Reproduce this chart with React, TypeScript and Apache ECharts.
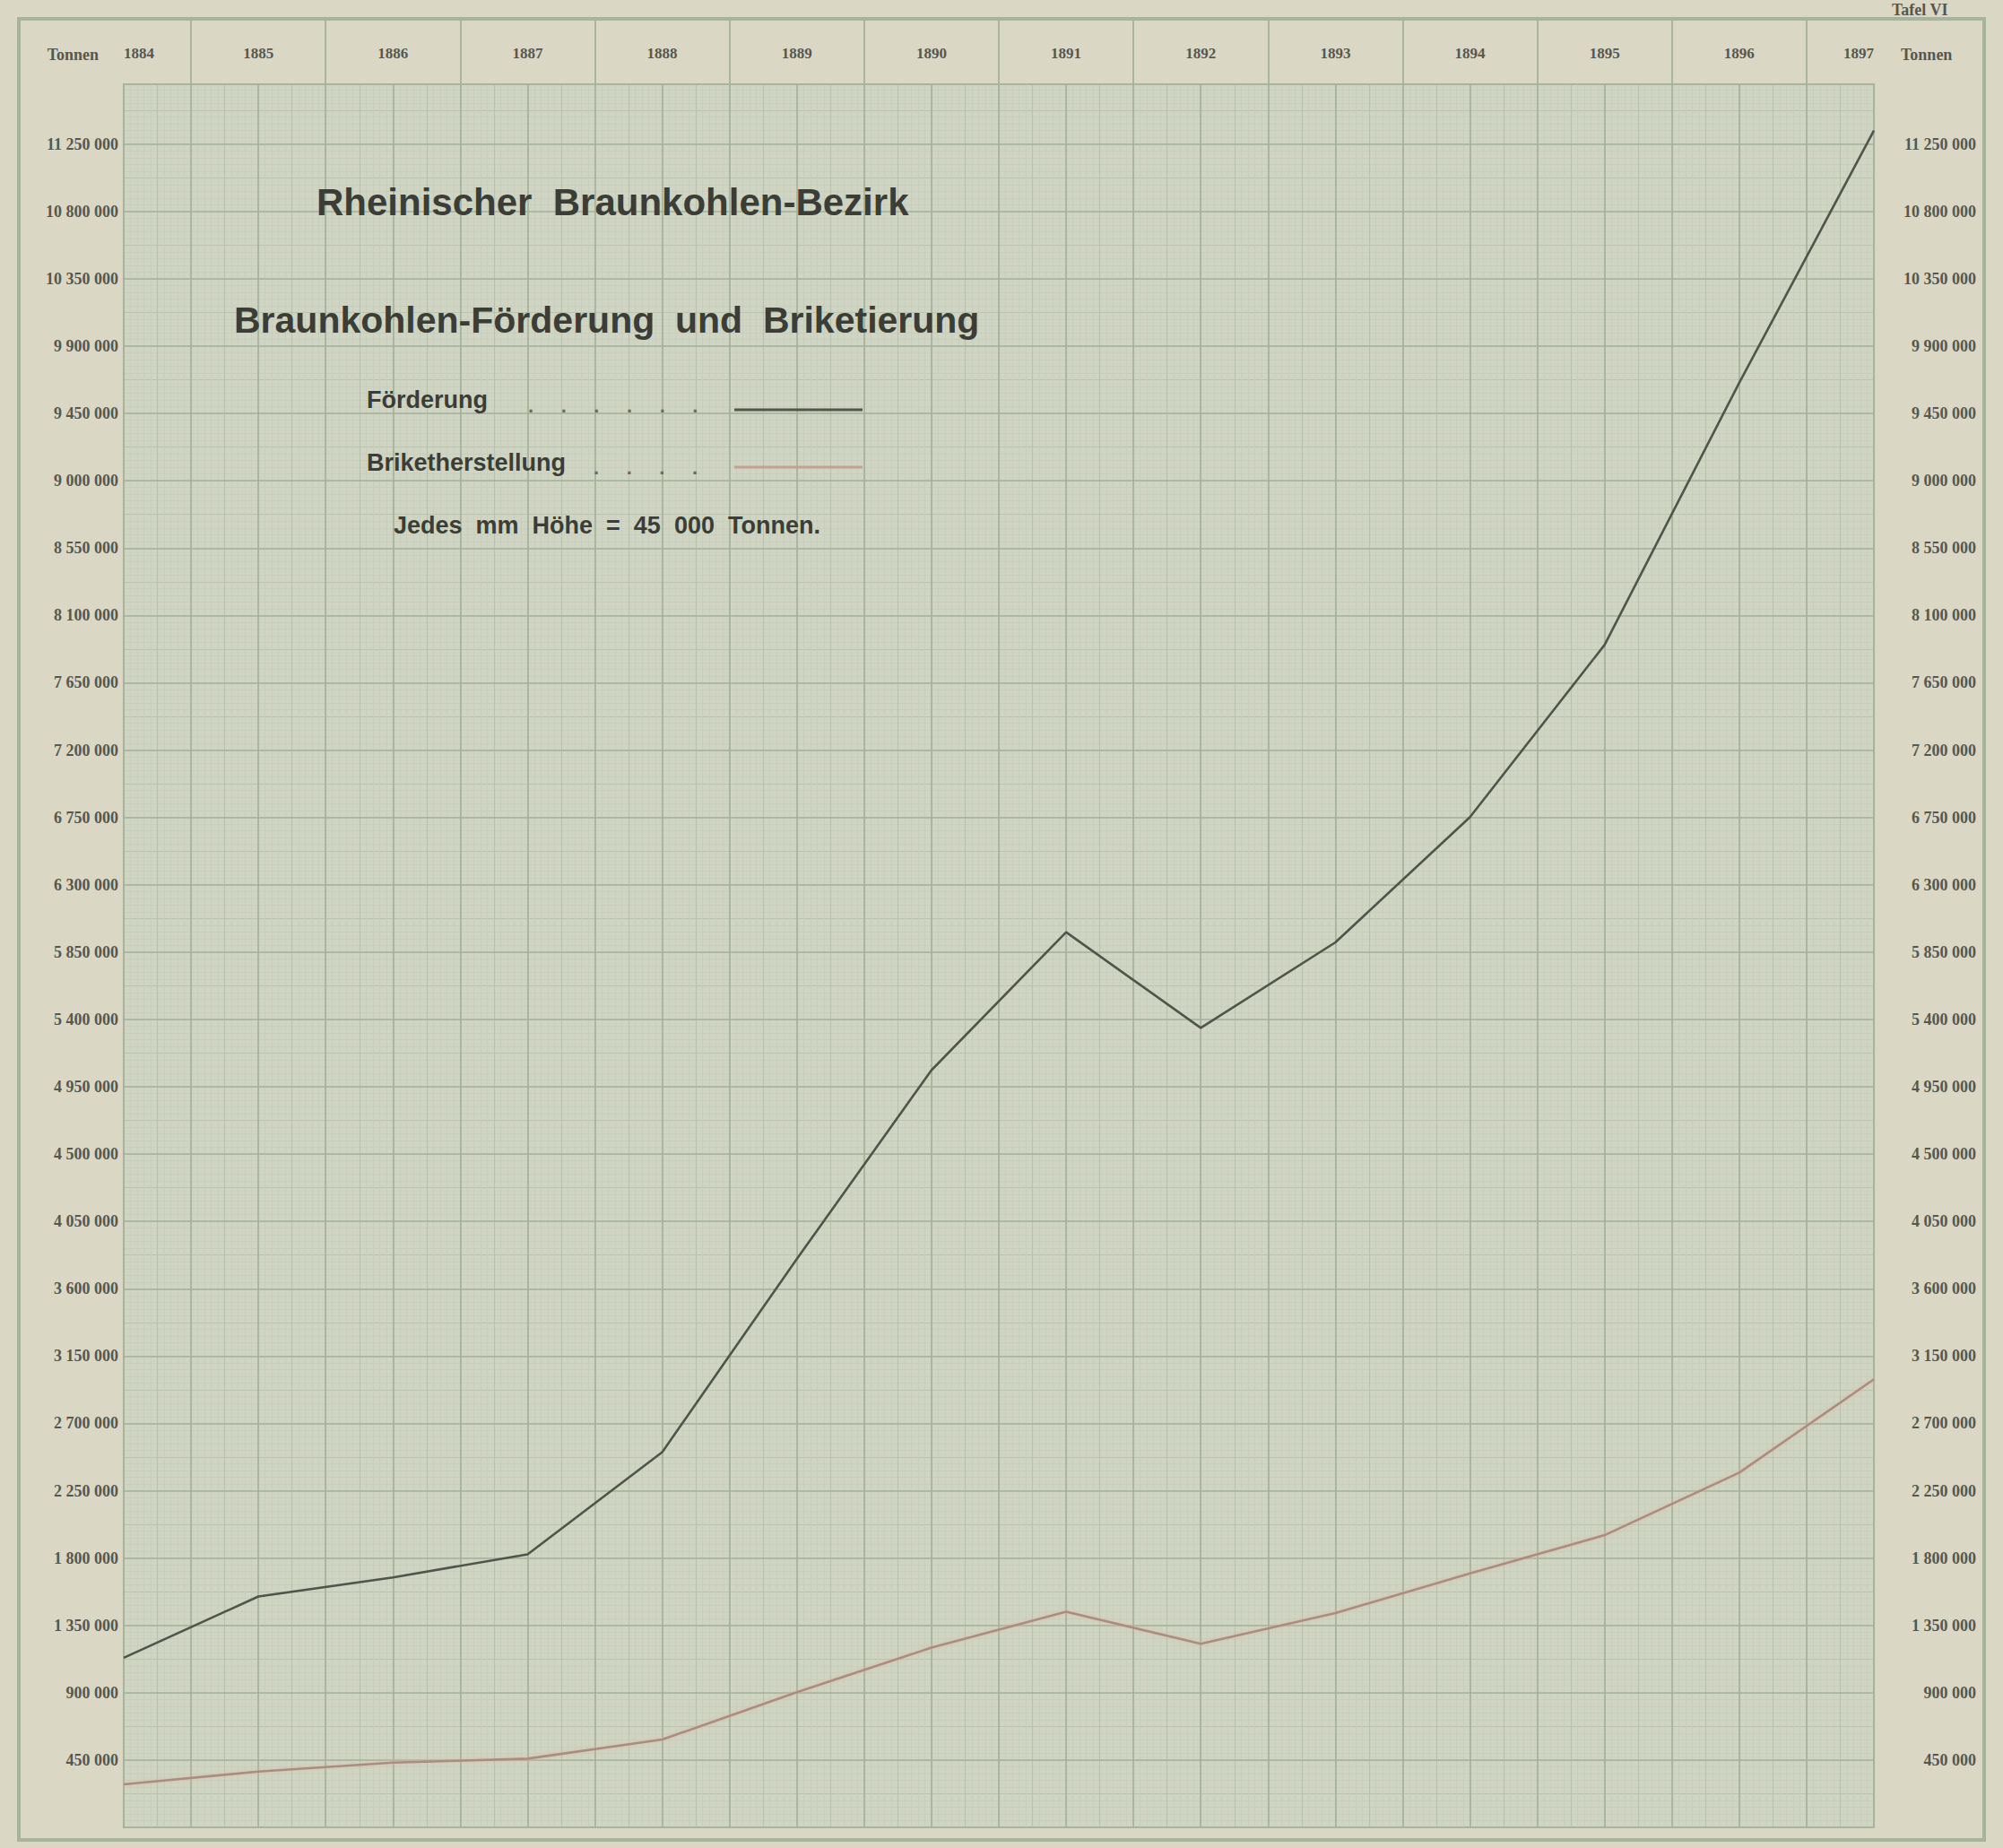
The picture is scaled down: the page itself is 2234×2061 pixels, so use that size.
import React, { useEffect, useRef } from "react";
import * as echarts from "echarts";

// ---- data ----
const years: number[] = [1884, 1885, 1886, 1887, 1888, 1889, 1890, 1891, 1892, 1893, 1894, 1895, 1896, 1897];
const foerderung: number[] = [1133000, 1543000, 1671000, 1825000, 2508000, 3800000, 5061000, 5983000, 5343000, 5915000, 6752000, 7904000, 9655000, 11340000];
const brikett: number[] = [288000, 373000, 433000, 459000, 587000, 903000, 1201000, 1441000, 1227000, 1432000, 1697000, 1953000, 2371000, 2995000];
const yTickValues: number[] = [
  450000, 900000, 1350000, 1800000, 2250000, 2700000, 3150000, 3600000, 4050000, 4500000,
  4950000, 5400000, 5850000, 6300000, 6750000, 7200000, 7650000, 8100000, 8550000, 9000000,
  9450000, 9900000, 10350000, 10800000, 11250000,
];
const titleMain = "Rheinischer Braunkohlen-Bezirk";
const titleSub = "Braunkohlen-Förderung und Briketierung";
const seriesNames: string[] = ["Förderung", "Briketherstellung"];
const scaleNote = "Jedes mm Höhe = 45 000 Tonnen.";
const unitLabel = "Tonnen";
const plateLabel = "Tafel VI";

const fmt = (v: number) => String(v).replace(/\B(?=(\d{3})+(?!\d))/g, " ");
const widen = (s: string) => s.split(" ").join("\u00a0\u00a0");

const PAPER = "#dbd7c5";
const PLOT = "#cfd5c2";
const FAINT = "#c7cebb";
const MEDIUM = "#b8c2ad";
const DARK = "#a5b29c";
const INK = "#3b3d36";
const LABEL = "#56584f";
const SERIF = '"Liberation Serif", "DejaVu Serif", serif';
const SANS = '"Liberation Sans", Arial, sans-serif';

const makeText = (text: string, x: number, y: number, size: number, extra: any = {}) => ({
  type: "text",
  x,
  y,
  z: 50,
  style: {
    text,
    fill: INK,
    font: `bold ${size}px ${SANS}`,
    align: "left",
    textAlign: "left",
    verticalAlign: "middle",
    textVerticalAlign: "middle",
    ...extra,
  },
});

const dots = (n: number) => Array(n).fill(".").join("\u00a0\u00a0\u00a0\u00a0\u00a0");

export default function App() {
  const ref = useRef<HTMLDivElement>(null);
  useEffect(() => {
    if (!ref.current) return;
    const chart = echarts.init(ref.current, null, { renderer: "svg" });
    const yMax = 11650000;
    const option: any = {
      animation: false,
      backgroundColor: PAPER,
      grid: [
        { left: 138, right: 144, top: 94, bottom: 23, show: true, backgroundColor: PLOT, borderColor: "#a3ae99", borderWidth: 2 },
        { left: 138, right: 144, top: 21, height: 73, show: false },
      ],
      xAxis: [
        {
          gridIndex: 0, type: "value", min: 1884, max: 1897, interval: 0.5, position: "top", z: 3,
          axisLine: { show: false }, axisTick: { show: false },
          axisLabel: {
            formatter: (v: number) => (Number.isInteger(v) ? String(v) : ""),
            margin: 26, fontFamily: SERIF, fontSize: 17, fontWeight: "bold", color: LABEL,
            alignMinLabel: "left", alignMaxLabel: "right",
          },
          splitLine: { show: true, lineStyle: { color: DARK, width: 1.6 } },
        },
        {
          gridIndex: 0, type: "value", min: 1884, max: 1897, interval: 0.25, z: 1,
          axisLine: { show: false }, axisTick: { show: false }, axisLabel: { show: false },
          splitLine: { show: true, lineStyle: { color: MEDIUM, width: 1.2 } },
          minorTick: { show: false, splitNumber: 5 },
          minorSplitLine: { show: true, lineStyle: { color: FAINT, width: 1 } },
        },
        {
          gridIndex: 1, type: "value", min: 1884, max: 1897, interval: 0.5, z: 1,
          axisLine: { show: false }, axisTick: { show: false }, axisLabel: { show: false },
          splitLine: { show: true, lineStyle: { color: ["rgba(0,0,0,0)", "#aab59f"], width: 2 } },
        },
      ],
      yAxis: [
        {
          gridIndex: 0, type: "value", position: "left", min: 0, max: yMax, interval: 450000, z: 3,
          axisLine: { show: false }, axisTick: { show: false },
          axisLabel: {
            formatter: (v: number) => (yTickValues.indexOf(v) >= 0 ? fmt(v) : ""),
            margin: 6, fontFamily: SERIF, fontSize: 18, fontWeight: "bold", color: LABEL,
          },
          splitLine: { show: true, lineStyle: { color: DARK, width: 1.6 } },
          name: unitLabel, nameLocation: "end", nameGap: 24,
          nameTextStyle: { fontFamily: SERIF, fontSize: 18, fontWeight: "bold", color: LABEL, align: "right", padding: [0, 28, 0, 0] },
        },
        {
          gridIndex: 0, type: "value", position: "right", min: 0, max: yMax, interval: 450000, z: 3,
          axisLine: { show: false }, axisTick: { show: false },
          axisLabel: {
            formatter: (v: number) => (yTickValues.indexOf(v) >= 0 ? fmt(v) : ""),
            margin: 114, align: "right", fontFamily: SERIF, fontSize: 18, fontWeight: "bold", color: LABEL,
          },
          splitLine: { show: false },
          name: unitLabel, nameLocation: "end", nameGap: 24,
          nameTextStyle: { fontFamily: SERIF, fontSize: 18, fontWeight: "bold", color: LABEL, align: "left", padding: [0, 0, 0, 30] },
        },
        {
          gridIndex: 0, type: "value", position: "left", min: 0, max: yMax, interval: 225000, z: 1,
          axisLine: { show: false }, axisTick: { show: false }, axisLabel: { show: false },
          splitLine: { show: true, lineStyle: { color: MEDIUM, width: 1.2 } },
          minorTick: { show: false, splitNumber: 5 },
          minorSplitLine: { show: true, lineStyle: { color: FAINT, width: 1 } },
        },
        {
          gridIndex: 1, type: "value", min: 0, max: 1, show: false,
        },
      ],
      series: [
        {
          name: seriesNames[0], type: "line", xAxisIndex: 0, yAxisIndex: 0, z: 10,
          symbol: "none", data: years.map((y, i) => [y, foerderung[i]]),
          lineStyle: { color: "#4f554a", width: 2.6 },
        },
        {
          name: seriesNames[1], type: "line", xAxisIndex: 0, yAxisIndex: 0, z: 10,
          symbol: "none", data: years.map((y, i) => [y, brikett[i]]),
          lineStyle: { color: "#a98d80", width: 2.6, shadowColor: "rgba(225,180,165,0.8)", shadowBlur: 4 },
        },
      ],
      graphic: [
        {
          type: "rect", z: 40, silent: true,
          shape: { x: 21, y: 21, width: 2192, height: 2031 },
          style: { fill: "none", stroke: "#a8b39f", lineWidth: 4 },
        },
        makeText(widen(titleMain), 353, 225, 42),
        makeText(widen(titleSub), 261, 357, 41),
        makeText(seriesNames[0], 409, 446, 27),
        makeText(dots(6), 589, 452, 22, { fill: "#6a6c62", font: `bold 22px ${SANS}` }),
        { type: "line", z: 50, shape: { x1: 819, y1: 457, x2: 962, y2: 457 }, style: { stroke: "#50574b", lineWidth: 3 } },
        makeText(seriesNames[1], 409, 516, 27),
        makeText(dots(4), 662, 521, 22, { fill: "#6a6c62", font: `bold 22px ${SANS}` }),
        { type: "line", z: 50, shape: { x1: 819, y1: 521, x2: 962, y2: 521 }, style: { stroke: "#c4a091", lineWidth: 3 } },
        makeText(widen(scaleNote), 439, 586, 27),
        makeText(plateLabel, 2110, 2, 18, { fill: "#55574e", font: `bold 18px ${SERIF}`, verticalAlign: "top", textVerticalAlign: "top" }),
      ],
    };
    chart.setOption(option);
    return () => chart.dispose();
  }, []);
  return <div ref={ref} style={{ position: "absolute", left: 0, top: 0, width: 2234, height: 2061 }} />;
}
